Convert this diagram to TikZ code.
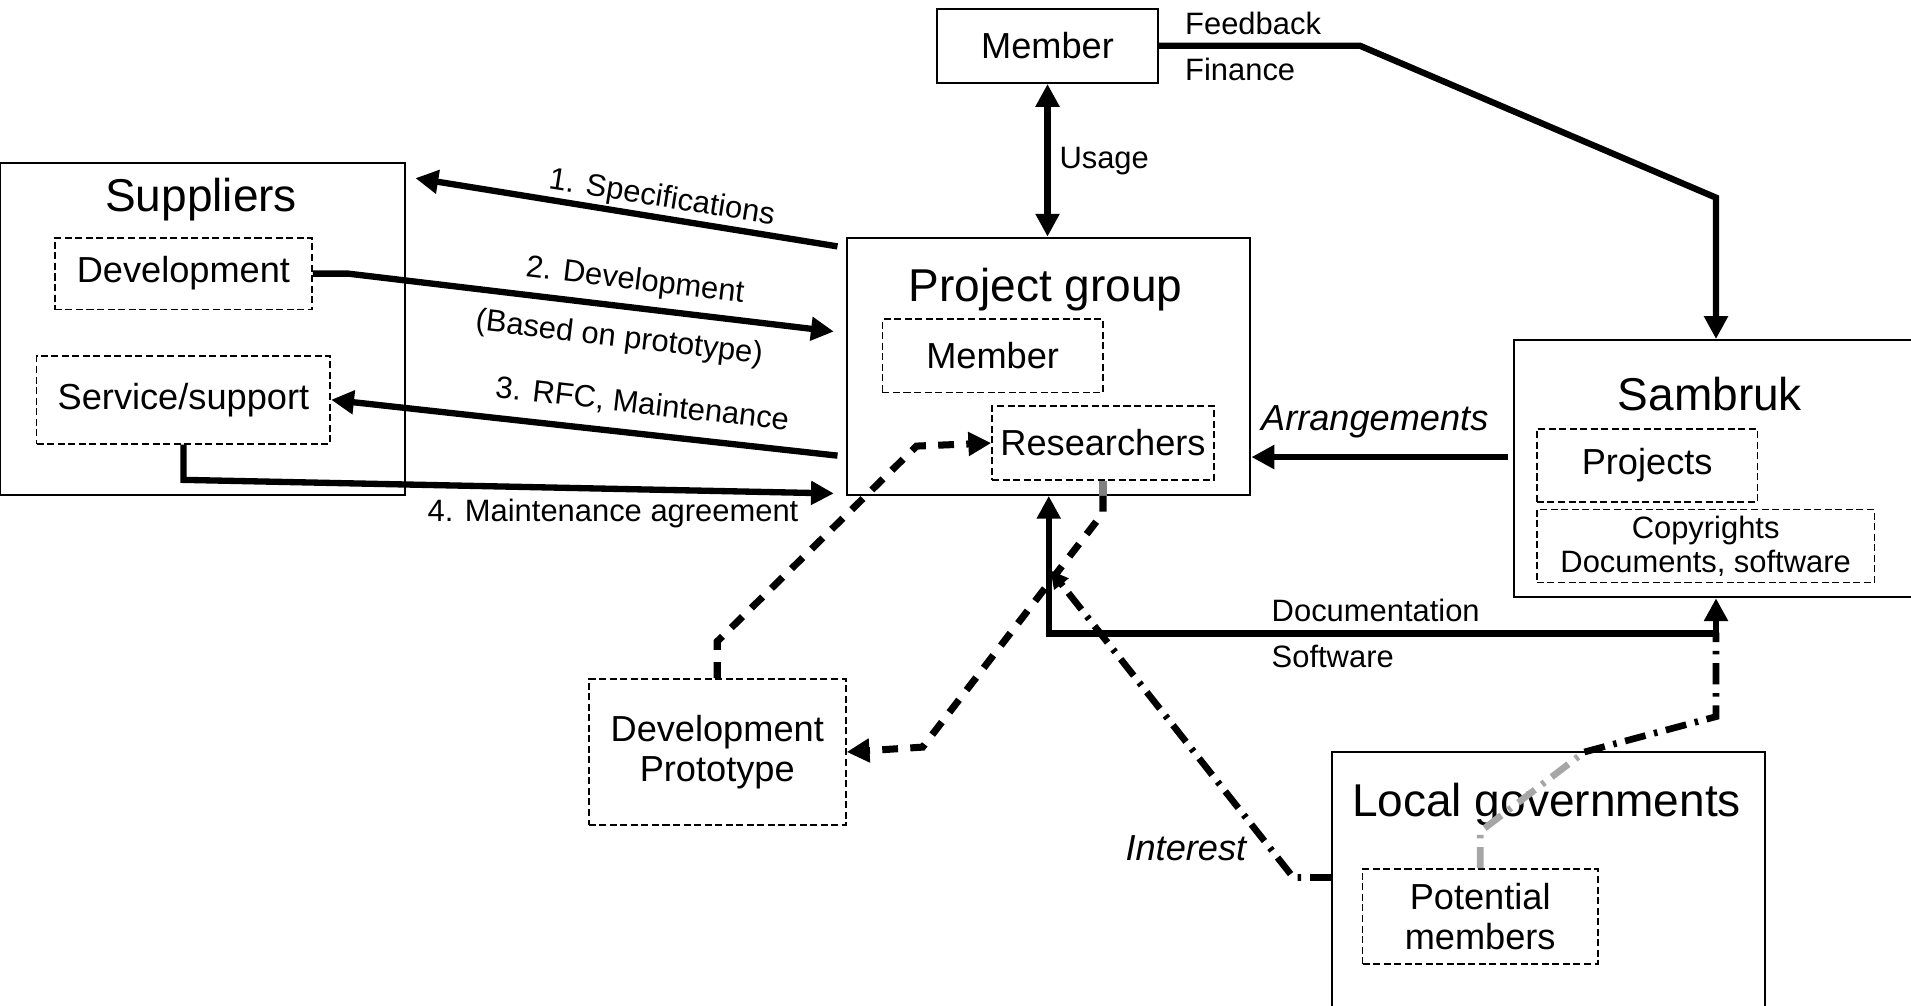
\documentclass[tikz,border=0pt]{standalone}
\usepackage{fontspec}
\setmainfont{Liberation Sans}
\usetikzlibrary{arrows.meta,calc}
\newcommand{\bigtxt}{\fontsize{13.1}{15}\selectfont}
\newcommand{\midtxt}{\fontsize{10.3}{11.4}\selectfont}
\newcommand{\smalltxt}{\fontsize{8.8}{9.7}\selectfont}
\newcommand{\pxu}{0.3468pt}
\tikzset{
	sz/.style 2 args={minimum width=#1*\pxu, minimum height=#2*\pxu},
	outerbox/.style={draw, line width=0.6pt, inner sep=0pt},
	innerbox/.style={draw, line width=0.5pt, dash pattern=on 2pt off 1pt, inner sep=0pt, align=center, font=\midtxt},
	boxtitle/.style={font=\bigtxt, inner sep=1pt},
	lbl/.style={font=\smalltxt, inner sep=1pt},
	tip/.style={-{Triangle[length=6.5pt,width=6.5pt]}},
	twotip/.style={{Triangle[length=6.5pt,width=6.5pt]}-{Triangle[length=6.5pt,width=6.5pt]}},
	flow/.style={line width=1.8pt, tip},
	dashflow/.style={line width=2pt, dash pattern=on 4.5pt off 3.5pt, tip},
	dotflow/.style={line width=1.9pt, dash pattern=on 6pt off 2.5pt on 1pt off 2.5pt},
}
\begin{document}
\begin{tikzpicture}[x=0.012188cm, y=-0.012188cm, line join=miter]
	\useasboundingbox (0,0) rectangle (1568,825);
	\clip (0,0) rectangle (1568,825);
	% boxes
	\node[outerbox, sz={181}{61}, font=\midtxt] (memTop) at (859.5,37.5) {Member};
	\node[outerbox, sz={332}{272}] (suppliers) at (166,270) {};
	\node[boxtitle] (supTitle) at (165,164) {Suppliers};
	\node[innerbox, sz={211}{59}] (supDev) at (150.5,224.5) {Development};
	\node[innerbox, sz={241}{72}] (supServ) at (150.5,328) {Service/support};
	\node[outerbox, sz={331}{211}] (project) at (860.5,300.5) {};
	\node[boxtitle] (projTitle) at (858,238) {Project group};
	\node[innerbox, sz={181}{60}] (projMem) at (814.5,292) {Member};
	\node[innerbox, sz={182}{61}] (projRes) at (905,363.5) {Researchers};
	\node[outerbox, sz={332}{211}] (sambruk) at (1408,384.5) {};
	\node[boxtitle] (sbTitle) at (1403,323) {Sambruk};
	\node[innerbox, sz={181}{60}] (sbProj) at (1351.5,382) {Projects};
	\node[innerbox, sz={277}{60}, font=\smalltxt] (sbCopy) at (1399.5,448) {Copyrights\\Documents, software};
	\node[innerbox, sz={211}{120}] (proto) at (588.5,617) {Development\\Prototype};
	\node[outerbox, sz={355}{223}] (localgov) at (1270.5,728.5) {};
	\node[boxtitle] (lgTitle) at (1269,660) {Local governments};
	\node[innerbox, sz={193}{78}] (potential) at (1214.5,752) {Potential\\members};
	% suppliers <-> project group
	\draw[flow] ($(project.north west)+(-7,8)$) -- ($(suppliers.north east)+(8,13)$);
	\draw[flow] (supDev.east) -- ++(29,0) -- ($(project.west)+(-10,-28.5)$);
	\draw[flow] ($(project.south west)+(-7,-33)$) -- (supServ.east);
	\draw[flow] (supServ.south) -- ++(0,29) -- ($(project.south west)+(-10,-2)$);
	\node[lbl, rotate=-9.1] (lblSpec) at (543,163) {1. Specifications};
	\node[lbl, rotate=-6.8] (lblDev) at (521,231) {2. Development};
	\node[lbl, rotate=-6.8] (lblBased) at (508,278) {(Based on prototype)};
	\node[lbl, rotate=-6.5] (lblRfc) at (527,332) {3. RFC, Maintenance};
	\node[lbl] (lblAgree) at (503,421) {4. Maintenance agreement};
	% member, sambruk
	\draw[flow, twotip] (memTop.south) -- (memTop.south |- project.north);
	\node[lbl] (lblUsage) at (906,132) {Usage};
	\draw[flow] (memTop.east) -- ++(165,0) -- ($(sambruk.north)+(0,-116)$) -- (sambruk.north);
	\node[lbl, anchor=west] (lblFeed) at (969,19) {Feedback};
	\node[lbl, anchor=west] (lblFin) at (969,57) {Finance};
	\draw[flow] (1237,375) coordinate (arrStart) -- (arrStart -| project.east);
	\node[lbl, font=\midtxt\itshape] (lblArr) at (1128,346) {Arrangements};
	\draw[flow, twotip] (project.south) -- ++(0,113) -| (sambruk.south);
	\node[lbl, anchor=west] (lblDoc) at (1040,501) {Documentation};
	\node[lbl, anchor=west] (lblSoft) at (1040,539) {Software};
	% prototype loop
	\draw[dashflow] (proto.north) -- ++(0,-30) -- (752,366) -- (projRes.west);
	\draw[gray, line width=2pt] (projRes.south) -- (projRes.south |- project.south);
	\draw[dashflow] (projRes.south |- project.south) -- ++(0,14) -- (757,613) -- (proto.east);
	% interest
	\draw[dotflow, -{Triangle[length=5pt,width=5pt]}] (localgov.west |- 0,720) -- ++(-31,0) -- (862,468) coordinate (intEnd);
	\node[lbl, font=\midtxt\itshape] (lblInt) at (973,696) {Interest};
	\draw[dotflow, gray!70] (potential.north) -- ++(0,-30) -- (1300,617) coordinate (lgExit);
	\draw[dotflow] (lgExit) -- (1408,588) -- (1408,519);
\end{tikzpicture}
\end{document}
